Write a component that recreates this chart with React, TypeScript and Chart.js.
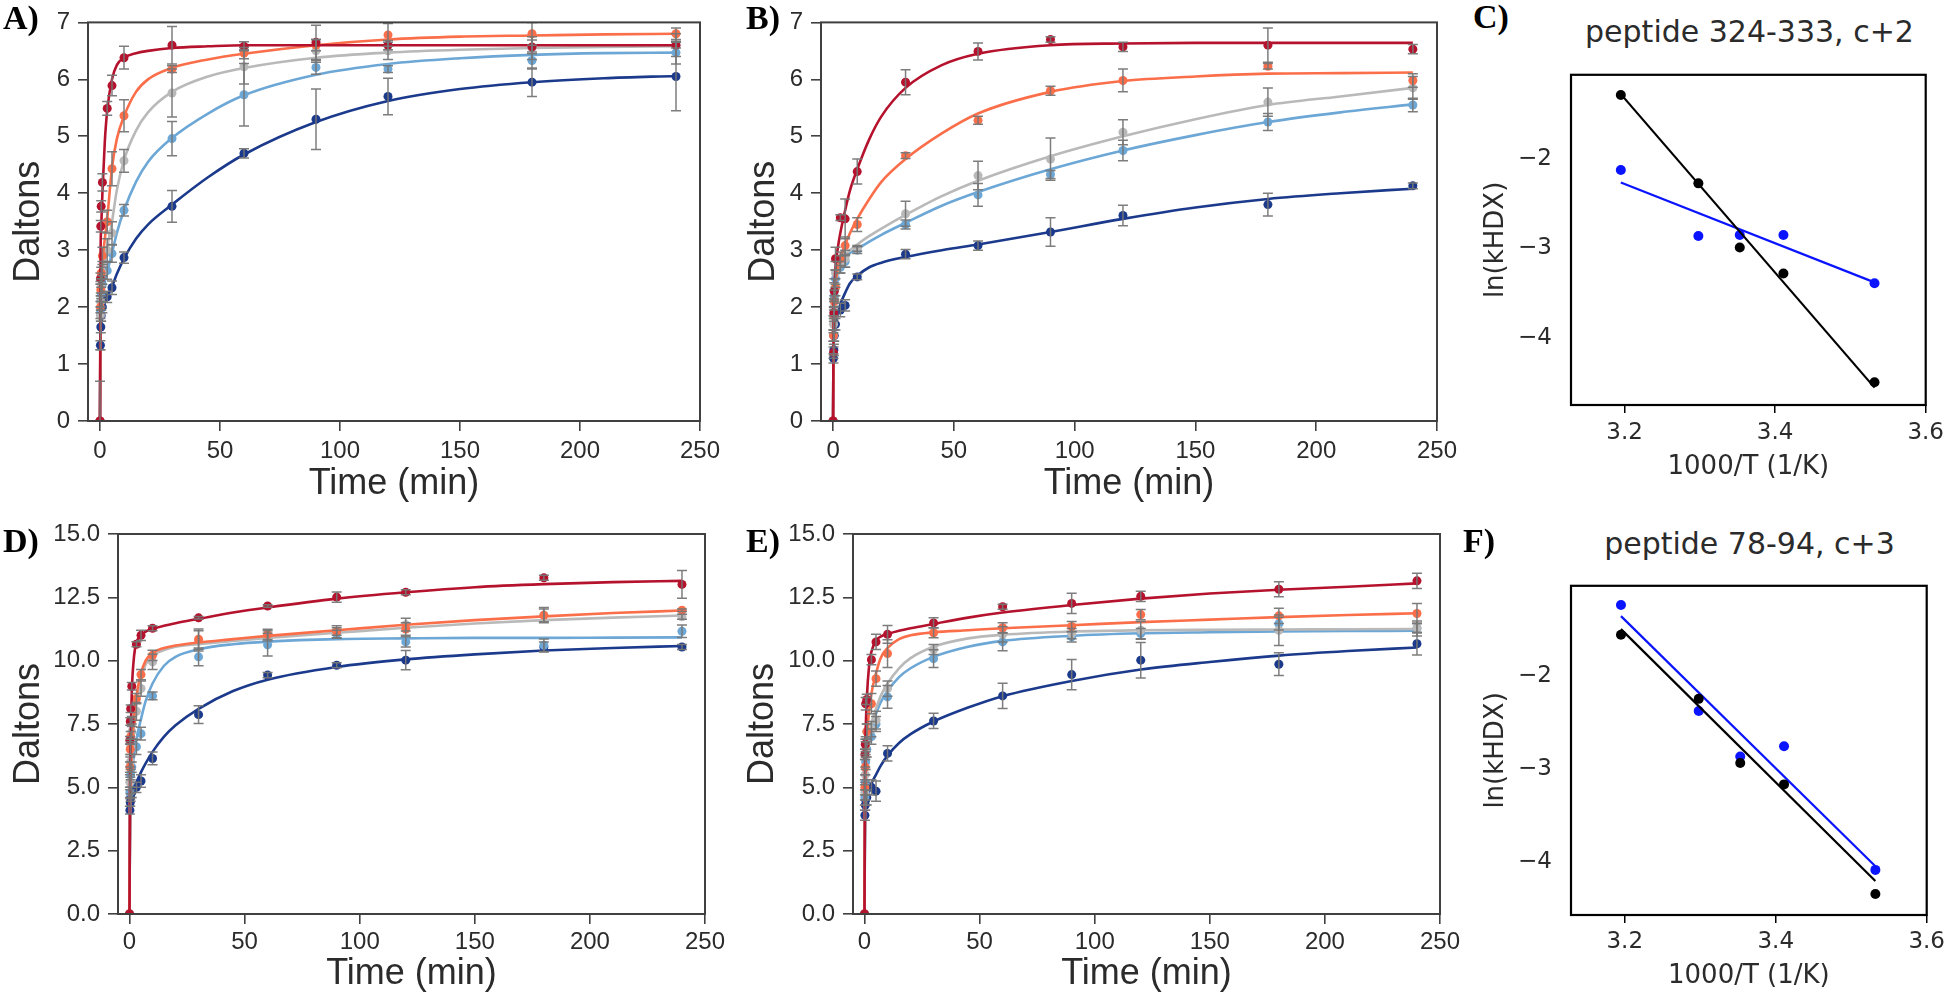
import React, { useEffect, useRef } from "react";
import { Chart, registerables } from "chart.js";
Chart.register(...registerables);

const FONT = "'Liberation Sans', Arial, sans-serif";
const FONT_ARR = "'DejaVu Sans', sans-serif";
const TEXT = "#2b2b2b";
const SPINE = "#404040";
const COLORS = ["#b5122d", "#fb6e4a", "#b9b9b9", "#6ca7d6", "#1c3a8c"]; // red, orange, gray, light blue, dark blue

const T_DATA = [0, 0.17, 0.33, 0.5, 1, 3, 5, 10, 30, 60, 90, 120, 180, 240];
const T_FIT = [0, 0.25, 0.5, 1, 2, 3, 5, 7, 10, 15, 20, 30, 45, 60, 90, 120, 150, 180, 210, 240];
const X_TICKS = [0, 50, 100, 150, 200, 250];
const Y_TICKS_TOP = [0, 1, 2, 3, 4, 5, 6, 7];
const Y_TICKS_BOTTOM = [0, 2.5, 5, 7.5, 10, 12.5, 15];

// ---- Panel A ----
const A_RED = [0, 2.5, 3.42, 3.77, 4.19, 5.49, 5.89, 6.38, 6.6, 6.58, 6.65, 6.6, 6.57, 6.6];
const A_ORANGE = [0, 2.0, 2.3, 2.6, 2.9, 3.5, 4.43, 5.36, 6.18, 6.46, 6.6, 6.78, 6.8, 6.8];
const A_GRAY = [0, 1.85, 2.1, 2.35, 2.6, 3.0, 3.3, 4.57, 5.76, 6.22, 6.5, 6.5, 6.55, 6.6];
const A_LBLUE = [0, 1.9, 2.1, 2.25, 2.4, 2.64, 2.94, 3.7, 4.96, 5.73, 6.21, 6.18, 6.33, 6.47];
const A_DBLUE = [0, 1.33, 1.65, 1.85, 2.0, 2.18, 2.34, 2.87, 3.77, 4.7, 5.3, 5.7, 5.95, 6.05];
const A_RED_ERR = [0, 0.1, 0.1, 0.1, 0.15, 0.12, 0.18, 0.2, 0.33, 0.08, 0.3, 0.08, 0.12, 0.05];
const A_ORANGE_ERR = [0, 0.1, 0.1, 0.1, 0.15, 0.2, 0.3, 0.28, 0.06, 0.1, 0.1, 0.2, 0.2, 0.1];
const A_GRAY_ERR = [0.7, 0.6, 0.15, 0.15, 0.2, 0.2, 0.2, 0.2, 0.42, 0.3, 0.2, 0.15, 0.2, 0.2];
const A_LBLUE_ERR = [0, 0.1, 0.1, 0.1, 0.15, 0.15, 0.15, 0.1, 0.3, 0.55, 0.12, 0.06, 0.15, 0.2];
const A_DBLUE_ERR = [0, 0.08, 0.1, 0.1, 0.1, 0.1, 0.12, 0.1, 0.28, 0.08, 0.53, 0.32, 0.25, 0.6];
const A_RED_FIT = [0, 3.0, 3.4, 4.0, 4.9, 5.45, 6.0, 6.25, 6.38, 6.46, 6.5, 6.55, 6.58, 6.6, 6.6, 6.6, 6.6, 6.6, 6.6, 6.6];
const A_ORANGE_FIT = [0, 2.3, 2.5, 2.8, 3.2, 3.55, 4.45, 4.95, 5.35, 5.78, 6.0, 6.2, 6.35, 6.45, 6.6, 6.7, 6.75, 6.77, 6.79, 6.8];
const A_GRAY_FIT = [0, 2.0, 2.25, 2.5, 2.8, 3.05, 3.5, 4.05, 4.58, 5.1, 5.42, 5.78, 6.05, 6.2, 6.38, 6.47, 6.52, 6.55, 6.57, 6.58];
const A_LBLUE_FIT = [0, 1.9, 2.05, 2.25, 2.45, 2.62, 2.95, 3.3, 3.7, 4.2, 4.55, 4.97, 5.4, 5.72, 6.08, 6.27, 6.37, 6.43, 6.46, 6.47];
const A_DBLUE_FIT = [0, 1.5, 1.7, 1.92, 2.08, 2.18, 2.36, 2.58, 2.85, 3.2, 3.45, 3.8, 4.28, 4.68, 5.25, 5.62, 5.83, 5.95, 6.02, 6.06];

// ---- Panel B ----
const B_RED = [0, 1.2, 1.9, 2.28, 2.85, 3.57, 3.55, 4.38, 5.95, 6.49, 6.7, 6.57, 6.6, 6.53];
const B_ORANGE = [0, 1.5, 1.85, 2.1, 2.35, 2.85, 3.08, 3.45, 4.66, 5.28, 5.8, 5.98, 6.23, 5.98];
const B_GRAY = [0, 1.7, 2.0, 2.3, 2.6, 2.75, 2.85, 3.03, 3.64, 4.31, 4.6, 5.07, 5.6, 5.85];
const B_LBLUE = [0, 1.5, 1.9, 2.2, 2.5, 2.7, 2.8, 3.0, 3.45, 3.97, 4.33, 4.75, 5.25, 5.55];
const B_DBLUE = [0, 1.1, 1.25, 1.5, 1.7, 1.95, 2.03, 2.53, 2.93, 3.08, 3.32, 3.61, 3.8, 4.13];
const B_RED_ERR = [0, 0.1, 0.1, 0.15, 0.2, 0.05, 0.35, 0.22, 0.22, 0.15, 0.05, 0.08, 0.3, 0.08];
const B_ORANGE_ERR = [0, 0.1, 0.1, 0.1, 0.15, 0.12, 0.15, 0.12, 0.05, 0.07, 0.08, 0.2, 0.05, 0.12];
const B_GRAY_ERR = [0, 0.15, 0.15, 0.2, 0.2, 0.15, 0.15, 0.05, 0.22, 0.25, 0.37, 0.22, 0.25, 0.2];
const B_LBLUE_ERR = [0, 0.1, 0.1, 0.1, 0.15, 0.1, 0.1, 0.06, 0.08, 0.2, 0.07, 0.18, 0.15, 0.12];
const B_DBLUE_ERR = [0, 0.08, 0.1, 0.1, 0.1, 0.12, 0.1, 0.05, 0.08, 0.08, 0.25, 0.18, 0.2, 0.05];
const B_RED_FIT = [0, 2.0, 2.3, 2.7, 3.05, 3.3, 3.7, 4.05, 4.42, 4.95, 5.35, 5.85, 6.25, 6.45, 6.6, 6.63, 6.64, 6.64, 6.64, 6.64];
const B_ORANGE_FIT = [0, 1.9, 2.1, 2.4, 2.7, 2.85, 3.1, 3.3, 3.55, 3.9, 4.2, 4.6, 5.05, 5.4, 5.78, 5.97, 6.05, 6.1, 6.11, 6.12];
const B_GRAY_FIT = [0, 2.0, 2.25, 2.5, 2.7, 2.8, 2.92, 3.0, 3.1, 3.25, 3.38, 3.62, 3.95, 4.22, 4.65, 5.0, 5.3, 5.55, 5.7, 5.85];
const B_LBLUE_FIT = [0, 2.0, 2.2, 2.45, 2.65, 2.75, 2.88, 2.95, 3.02, 3.15, 3.27, 3.48, 3.78, 4.02, 4.42, 4.75, 5.02, 5.25, 5.42, 5.56];
const B_DBLUE_FIT = [0, 1.3, 1.5, 1.7, 1.9, 2.05, 2.25, 2.42, 2.55, 2.7, 2.78, 2.88, 3.0, 3.1, 3.32, 3.55, 3.75, 3.9, 4.0, 4.08];

// ---- Panel D ----
const D_RED = [0, 6.86, 7.6, 8.1, 8.99, 10.65, 11.0, 11.28, 11.69, 12.16, 12.51, 12.7, 13.27, 13.01];
const D_ORANGE = [0, 5.8, 6.5, 7.0, 7.6, 8.5, 9.45, 10.21, 10.85, 11.04, 11.15, 11.25, 11.79, 11.99];
const D_GRAY = [0, 5.2, 6.0, 6.6, 7.2, 8.0, 8.9, 9.95, 10.78, 10.98, 11.13, 11.42, 11.8, 11.73];
const D_LBLUE = [0, 4.8, 5.2, 5.5, 5.8, 6.6, 7.12, 8.61, 10.15, 10.63, 11.05, 10.74, 10.61, 11.16];
const D_DBLUE = [0, 4.1, 4.4, 4.6, 4.8, 5.0, 5.25, 6.14, 7.87, 9.43, 9.82, 10.02, 10.54, 10.54];
const D_RED_ERR = [0, 0.15, 0.15, 0.15, 0.15, 0.1, 0.2, 0.1, 0.05, 0.05, 0.2, 0.1, 0.1, 0.55];
const D_ORANGE_ERR = [0, 0.2, 0.2, 0.2, 0.2, 0.2, 0.2, 0.2, 0.4, 0.2, 0.15, 0.25, 0.25, 0.05];
const D_GRAY_ERR = [0, 0.3, 0.2, 0.3, 0.3, 0.35, 0.3, 0.3, 0.4, 0.2, 0.25, 0.25, 0.3, 0.1];
const D_LBLUE_ERR = [0, 0.2, 0.2, 0.2, 0.2, 0.3, 0.25, 0.15, 0.35, 0.45, 0.15, 0.2, 0.25, 0.25];
const D_DBLUE_ERR = [0, 0.15, 0.15, 0.15, 0.2, 0.2, 0.25, 0.25, 0.35, 0.1, 0.1, 0.38, 0.2, 0.1];
const D_RED_FIT = [0, 5.5, 7.0, 8.8, 10.2, 10.7, 11.0, 11.15, 11.25, 11.38, 11.48, 11.65, 11.9, 12.1, 12.45, 12.7, 12.9, 13.02, 13.1, 13.15];
const D_ORANGE_FIT = [0, 4.8, 5.5, 6.5, 7.8, 8.6, 9.5, 10.0, 10.3, 10.5, 10.6, 10.72, 10.85, 10.98, 11.2, 11.42, 11.6, 11.75, 11.88, 11.98];
const D_GRAY_FIT = [0, 4.8, 5.5, 6.3, 7.5, 8.3, 9.3, 9.85, 10.2, 10.42, 10.55, 10.65, 10.78, 10.9, 11.1, 11.3, 11.47, 11.6, 11.7, 11.78];
const D_LBLUE_FIT = [0, 4.5, 5.0, 5.6, 6.3, 6.9, 7.7, 8.4, 9.1, 9.8, 10.15, 10.45, 10.65, 10.75, 10.85, 10.88, 10.9, 10.9, 10.91, 10.92];
const D_DBLUE_FIT = [0, 4.1, 4.4, 4.7, 5.0, 5.2, 5.6, 5.95, 6.4, 7.0, 7.45, 8.1, 8.8, 9.25, 9.75, 10.05, 10.25, 10.4, 10.5, 10.58];

// ---- Panel E ----
const E_RED = [0, 6.3, 6.7, 8.3, 8.47, 10.04, 10.74, 11.04, 11.49, 12.13, 12.26, 12.54, 12.82, 13.15];
const E_ORANGE = [0, 5.0, 5.8, 6.7, 7.2, 8.3, 9.29, 10.28, 11.1, 11.3, 11.35, 11.82, 11.77, 11.86];
const E_GRAY = [0, 4.8, 5.5, 6.5, 7.2, 7.3, 7.65, 8.9, 10.44, 11.04, 11.07, 11.2, 11.2, 11.29];
const E_LBLUE = [0, 4.6, 5.2, 6.0, 6.5, 7.0, 7.5, 8.57, 10.08, 10.74, 10.94, 11.07, 11.46, 11.27];
const E_DBLUE = [0, 3.9, 4.3, 4.5, 4.6, 5.0, 4.85, 6.34, 7.62, 8.61, 9.45, 10.02, 9.86, 10.67];
const E_RED_ERR = [0, 0.2, 0.2, 0.25, 0.2, 0.2, 0.3, 0.35, 0.2, 0.1, 0.4, 0.2, 0.3, 0.3];
const E_ORANGE_ERR = [0, 0.3, 0.3, 0.3, 0.3, 0.4, 0.3, 0.55, 0.2, 0.2, 0.2, 0.2, 0.3, 0.4];
const E_GRAY_ERR = [0, 0.3, 0.3, 0.3, 0.3, 0.3, 0.35, 0.3, 0.2, 0.3, 0.2, 0.35, 0.6, 0.2];
const E_LBLUE_ERR = [0, 0.3, 0.3, 0.3, 0.3, 0.3, 0.3, 0.45, 0.35, 0.35, 0.2, 0.2, 0.25, 0.3];
const E_DBLUE_ERR = [0, 0.2, 0.2, 0.2, 0.3, 0.3, 0.4, 0.3, 0.3, 0.5, 0.6, 0.7, 0.45, 0.45];
const E_RED_FIT = [0, 6.0, 7.2, 8.5, 9.8, 10.35, 10.8, 10.95, 11.05, 11.18, 11.28, 11.45, 11.7, 11.9, 12.2, 12.45, 12.65, 12.8, 12.92, 13.05];
const E_ORANGE_FIT = [0, 5.3, 6.0, 7.0, 8.0, 8.7, 9.5, 10.1, 10.5, 10.85, 11.0, 11.12, 11.2, 11.28, 11.4, 11.52, 11.62, 11.72, 11.8, 11.87];
const E_GRAY_FIT = [0, 5.5, 6.0, 6.7, 7.2, 7.55, 8.1, 8.6, 9.1, 9.7, 10.1, 10.55, 10.88, 11.02, 11.15, 11.2, 11.22, 11.23, 11.24, 11.25];
const E_LBLUE_FIT = [0, 5.3, 5.8, 6.5, 7.0, 7.35, 7.9, 8.35, 8.8, 9.35, 9.7, 10.15, 10.55, 10.78, 10.98, 11.08, 11.12, 11.15, 11.17, 11.18];
const E_DBLUE_FIT = [0, 3.9, 4.2, 4.5, 4.9, 5.15, 5.5, 5.85, 6.25, 6.75, 7.1, 7.6, 8.15, 8.6, 9.2, 9.65, 9.95, 10.2, 10.38, 10.52];

// ---- Arrhenius panels C and F ----
const INV_T = [3.195, 3.298, 3.353, 3.411, 3.532];
const FIT_X = [3.195, 3.532];
const ARR_X_TICKS = [3.2, 3.4, 3.6];
const ARR_Y_TICKS = [-4, -3, -2];
const C_BLACK = [-1.28, -2.27, -2.99, -3.28, -4.5];
const C_BLUE = [-2.12, -2.86, -2.85, -2.85, -3.39];
const C_BLACK_FIT = [-1.27, -4.56];
const C_BLUE_FIT = [-2.26, -3.38];
const F_BLACK = [-1.56, -2.25, -2.94, -3.17, -4.35];
const F_BLUE = [-1.24, -2.38, -2.87, -2.76, -4.09];
const F_BLACK_FIT = [-1.5, -4.21];
const F_BLUE_FIT = [-1.36, -4.05];

const framePlugin = {
  id: "frame",
  afterDraw(chart: any, _args: any, opts: any) {
    const { left, top, right, bottom } = chart.chartArea;
    const ctx = chart.ctx;
    ctx.save();
    ctx.strokeStyle = opts.color;
    ctx.lineWidth = opts.width;
    ctx.strokeRect(left, top, right - left, bottom - top);
    ctx.restore();
  },
};

const errorBarPlugin = {
  id: "errorBars",
  afterDatasetsDraw(chart: any) {
    const ctx = chart.ctx;
    const xs = chart.scales.x;
    const ys = chart.scales.y;
    const { left, top, right, bottom } = chart.chartArea;
    ctx.save();
    ctx.beginPath();
    ctx.rect(left, top, right - left, bottom - top);
    ctx.clip();
    ctx.strokeStyle = "rgba(118,118,118,0.95)";
    ctx.lineWidth = 1.5;
    chart.data.datasets.forEach((ds: any) => {
      const errs = ds.errors;
      if (!errs) return;
      ds.data.forEach((p: any, i: number) => {
        const e = errs[i];
        if (!e) return;
        const x = xs.getPixelForValue(p.x);
        const y1 = ys.getPixelForValue(p.y - e);
        const y2 = ys.getPixelForValue(p.y + e);
        ctx.beginPath();
        ctx.moveTo(x, y1);
        ctx.lineTo(x, y2);
        ctx.moveTo(x - 5, y1);
        ctx.lineTo(x + 5, y1);
        ctx.moveTo(x - 5, y2);
        ctx.lineTo(x + 5, y2);
        ctx.stroke();
      });
    });
    ctx.restore();
  },
};

type HdxCfg = {
  letter: string;
  letterX: number;
  letterY: number;
  L: number; T: number; R: number; B: number;
  W: number; H: number; padTop: number; padRight: number;
  yMax: number; yTicks: number[]; yDecimals: number;
  yTitlePad: number; xTitlePad: number; yTickPad: number; xTickPad: number;
  values: number[][]; errors: number[][]; fits: number[][];
};

const PANELS: HdxCfg[] = [
  {
    letter: "A)", letterX: 3, letterY: 1,
    L: 88, T: 22, R: 700, B: 421, W: 88, H: 86, padTop: 22, padRight: 30,
    yMax: 7, yTicks: Y_TICKS_TOP, yDecimals: 0, yTitlePad: 7, xTitlePad: 1, yTickPad: 8, xTickPad: 6,
    values: [A_RED, A_ORANGE, A_GRAY, A_LBLUE, A_DBLUE],
    errors: [A_RED_ERR, A_ORANGE_ERR, A_GRAY_ERR, A_LBLUE_ERR, A_DBLUE_ERR],
    fits: [A_RED_FIT, A_ORANGE_FIT, A_GRAY_FIT, A_LBLUE_FIT, A_DBLUE_FIT],
  },
  {
    letter: "B)", letterX: 746, letterY: 1,
    L: 821, T: 22, R: 1437, B: 421, W: 88, H: 86, padTop: 22, padRight: 30,
    yMax: 7, yTicks: Y_TICKS_TOP, yDecimals: 0, yTitlePad: 9, xTitlePad: 1, yTickPad: 8, xTickPad: 6,
    values: [B_RED, B_ORANGE, B_GRAY, B_LBLUE, B_DBLUE],
    errors: [B_RED_ERR, B_ORANGE_ERR, B_GRAY_ERR, B_LBLUE_ERR, B_DBLUE_ERR],
    fits: [B_RED_FIT, B_ORANGE_FIT, B_GRAY_FIT, B_LBLUE_FIT, B_DBLUE_FIT],
  },
  {
    letter: "D)", letterX: 3, letterY: 524,
    L: 118, T: 534, R: 705, B: 914, W: 118, H: 83, padTop: 24, padRight: 30,
    yMax: 15, yTicks: Y_TICKS_BOTTOM, yDecimals: 1, yTitlePad: 7, xTitlePad: 1, yTickPad: 8, xTickPad: 4,
    values: [D_RED, D_ORANGE, D_GRAY, D_LBLUE, D_DBLUE],
    errors: [D_RED_ERR, D_ORANGE_ERR, D_GRAY_ERR, D_LBLUE_ERR, D_DBLUE_ERR],
    fits: [D_RED_FIT, D_ORANGE_FIT, D_GRAY_FIT, D_LBLUE_FIT, D_DBLUE_FIT],
  },
  {
    letter: "E)", letterX: 746, letterY: 524,
    L: 853, T: 534, R: 1440, B: 914, W: 118, H: 83, padTop: 24, padRight: 30,
    yMax: 15, yTicks: Y_TICKS_BOTTOM, yDecimals: 1, yTitlePad: 6, xTitlePad: 1, yTickPad: 8, xTickPad: 4,
    values: [E_RED, E_ORANGE, E_GRAY, E_LBLUE, E_DBLUE],
    errors: [E_RED_ERR, E_ORANGE_ERR, E_GRAY_ERR, E_LBLUE_ERR, E_DBLUE_ERR],
    fits: [E_RED_FIT, E_ORANGE_FIT, E_GRAY_FIT, E_LBLUE_FIT, E_DBLUE_FIT],
  },
];

function HdxChart({ c }: { c: HdxCfg }) {
  const ref = useRef<HTMLCanvasElement>(null);
  const cw = c.R - c.L + c.W + c.padRight;
  const ch = c.B - c.T + c.padTop + c.H;
  useEffect(() => {
    const datasets: any[] = [];
    COLORS.forEach((col, si) => {
      datasets.push({
        data: T_DATA.map((t, i) => ({ x: t, y: c.values[si][i] })),
        errors: c.errors[si],
        backgroundColor: col,
        borderColor: col,
        pointRadius: 4.5,
        pointBorderWidth: 0,
        showLine: false,
        order: si * 2,
      });
      datasets.push({
        data: T_FIT.map((t, i) => ({ x: t, y: c.fits[si][i] })),
        borderColor: col,
        backgroundColor: col,
        borderWidth: 2.6,
        pointRadius: 0,
        showLine: true,
        cubicInterpolationMode: "monotone",
        fill: false,
        order: si * 2 + 1,
      });
    });
    const gridOpts = { drawOnChartArea: false, drawTicks: true, tickLength: 10, color: SPINE, lineWidth: 1.6 };
    const chart = new Chart(ref.current!, {
      type: "scatter",
      data: { datasets },
      plugins: [framePlugin, errorBarPlugin],
      options: {
        responsive: false,
        animation: false,
        events: [],
        layout: { padding: { left: 0, top: c.padTop, right: c.padRight, bottom: 0 } },
        plugins: {
          legend: { display: false },
          tooltip: { enabled: false },
          frame: { color: SPINE, width: 2 },
        } as any,
        scales: {
          x: {
            type: "linear",
            min: -5,
            max: 250,
            afterBuildTicks: (s: any) => { s.ticks = X_TICKS.map((v) => ({ value: v })); },
            afterFit: (s: any) => { s.height = c.H; },
            grid: gridOpts,
            border: { display: false },
            ticks: { font: { family: FONT, size: 24 }, color: TEXT, padding: c.xTickPad, maxRotation: 0, autoSkip: false },
            title: { display: true, text: "Time (min)", font: { family: FONT, size: 36 }, color: TEXT, padding: { top: 0, bottom: c.xTitlePad } },
          },
          y: {
            type: "linear",
            min: 0,
            max: c.yMax,
            afterBuildTicks: (s: any) => { s.ticks = c.yTicks.map((v) => ({ value: v })); },
            afterFit: (s: any) => { s.width = c.W; },
            grid: gridOpts,
            border: { display: false },
            ticks: {
              font: { family: FONT, size: 24 }, color: TEXT, padding: c.yTickPad, autoSkip: false,
              callback: (v: any) => Number(v).toFixed(c.yDecimals),
            },
            title: { display: true, text: "Daltons", font: { family: FONT, size: 36 }, color: TEXT, padding: { top: c.yTitlePad, bottom: 0 } },
          },
        },
      } as any,
    });
    return () => chart.destroy();
  }, []);
  return (
    <canvas
      ref={ref}
      width={cw}
      height={ch}
      style={{ position: "absolute", left: c.L - c.W, top: c.T - c.padTop, width: cw, height: ch }}
    />
  );
}

type ArrCfg = {
  title: string;
  letter: string; letterX: number; letterY: number;
  titleTop: number;
  T: number; B: number; H: number; xTickPad: number;
  yMin: number; yMax: number;
  black: number[]; blue: number[]; blackFit: number[]; blueFit: number[];
};

const ARR_L = 1571;
const ARR_R = 1928;
const ARR_W = 121;
const ARR_PAD_RIGHT = 22;
const ARR_PAD_TOP = 15;

const ARR_PANELS: ArrCfg[] = [
  {
    title: "peptide 324-333, c+2", letter: "C)", letterX: 1473, letterY: 0,
    titleTop: 17, T: 57, B: 405, H: 78, xTickPad: 6, yMin: -4.755, yMax: -1.053,
    black: C_BLACK, blue: C_BLUE, blackFit: C_BLACK_FIT, blueFit: C_BLUE_FIT,
  },
  {
    title: "peptide 78-94, c+3", letter: "F)", letterX: 1463, letterY: 524,
    titleTop: 529, T: 568, B: 915, H: 77, xTickPad: 5, yMin: -4.575, yMax: -1.034,
    black: F_BLACK, blue: F_BLUE, blackFit: F_BLACK_FIT, blueFit: F_BLUE_FIT,
  },
];

function ArrChart({ c }: { c: ArrCfg }) {
  const ref = useRef<HTMLCanvasElement>(null);
  const cw = ARR_W + (ARR_R - ARR_L) + ARR_PAD_RIGHT;
  const ch = c.B - c.T + ARR_PAD_TOP + c.H;
  useEffect(() => {
    const pts = (ys: number[]) => INV_T.map((x, i) => ({ x, y: ys[i] }));
    const fit = (ys: number[]) => FIT_X.map((x, i) => ({ x, y: ys[i] }));
    const datasets: any[] = [
      { data: pts(c.black), backgroundColor: "#000000", borderColor: "#000000", pointRadius: 5, pointBorderWidth: 0, showLine: false, order: 0 },
      { data: fit(c.blackFit), borderColor: "#000000", borderWidth: 2.2, pointRadius: 0, showLine: true, order: 1 },
      { data: pts(c.blue), backgroundColor: "#0a14ff", borderColor: "#0a14ff", pointRadius: 5, pointBorderWidth: 0, showLine: false, order: 2 },
      { data: fit(c.blueFit), borderColor: "#0a14ff", borderWidth: 2.2, pointRadius: 0, showLine: true, order: 3 },
    ];
    const chart = new Chart(ref.current!, {
      type: "scatter",
      data: { datasets },
      plugins: [framePlugin],
      options: {
        responsive: false,
        animation: false,
        events: [],
        layout: { padding: { left: 0, top: ARR_PAD_TOP, right: ARR_PAD_RIGHT, bottom: 0 } },
        plugins: {
          legend: { display: false },
          tooltip: { enabled: false },
          frame: { color: "#000000", width: 2.2 },
        } as any,
        scales: {
          x: {
            type: "linear",
            min: 3.1288,
            max: 3.6,
            afterBuildTicks: (s: any) => { s.ticks = ARR_X_TICKS.map((v) => ({ value: v })); },
            afterFit: (s: any) => { s.height = c.H; },
            grid: { drawOnChartArea: false, drawTicks: true, tickLength: 8, color: "#000000", lineWidth: 1.5 },
            border: { display: false },
            ticks: { font: { family: FONT_ARR, size: 23 }, color: TEXT, padding: c.xTickPad, maxRotation: 0, autoSkip: false, callback: (v: any) => Number(v).toFixed(1) },
            title: { display: true, text: "1000/T (1/K)", font: { family: FONT_ARR, size: 26 }, color: TEXT, padding: { top: 0, bottom: 0 } },
          },
          y: {
            type: "linear",
            min: c.yMin,
            max: c.yMax,
            afterBuildTicks: (s: any) => { s.ticks = ARR_Y_TICKS.map((v) => ({ value: v })); },
            afterFit: (s: any) => { s.width = ARR_W; },
            grid: { drawOnChartArea: false, drawTicks: false, color: "#000000", lineWidth: 1.5 },
            border: { display: false },
            ticks: { font: { family: FONT_ARR, size: 23 }, color: TEXT, padding: 19, autoSkip: false, callback: (v: any) => String(v).replace("-", "\u2212") },
            title: { display: true, text: "ln(kHDX)", font: { family: FONT_ARR, size: 26 }, color: TEXT, padding: { top: 31, bottom: 0 } },
          },
        },
      } as any,
    });
    return () => chart.destroy();
  }, []);
  return (
    <>
      <div
        style={{
          position: "absolute", left: ARR_L, top: c.titleTop, width: ARR_R - ARR_L, textAlign: "center",
          fontFamily: FONT_ARR, fontSize: 30, lineHeight: 1, color: TEXT, whiteSpace: "nowrap",
        }}
      >
        {c.title}
      </div>
      <canvas
        ref={ref}
        width={cw}
        height={ch}
        style={{ position: "absolute", left: ARR_L - ARR_W, top: c.T - ARR_PAD_TOP, width: cw, height: ch }}
      />
    </>
  );
}

const letterStyle = (x: number, y: number): React.CSSProperties => ({
  position: "absolute", left: x, top: y, fontFamily: "'Liberation Serif', 'Times New Roman', serif",
  fontWeight: "bold", fontSize: 34, lineHeight: 1, color: "#000", whiteSpace: "nowrap",
});

export default function App() {
  return (
    <div style={{ position: "absolute", left: 0, top: 0, width: 1950, height: 997, background: "#fff", overflow: "hidden" }}>
      {PANELS.map((p) => (
        <HdxChart key={p.letter} c={p} />
      ))}
      {ARR_PANELS.map((p) => (
        <ArrChart key={p.letter} c={p} />
      ))}
      {PANELS.map((p) => (
        <div key={"l" + p.letter} style={letterStyle(p.letterX, p.letterY)}>{p.letter}</div>
      ))}
      {ARR_PANELS.map((p) => (
        <div key={"l" + p.letter} style={letterStyle(p.letterX, p.letterY)}>{p.letter}</div>
      ))}
    </div>
  );
}
